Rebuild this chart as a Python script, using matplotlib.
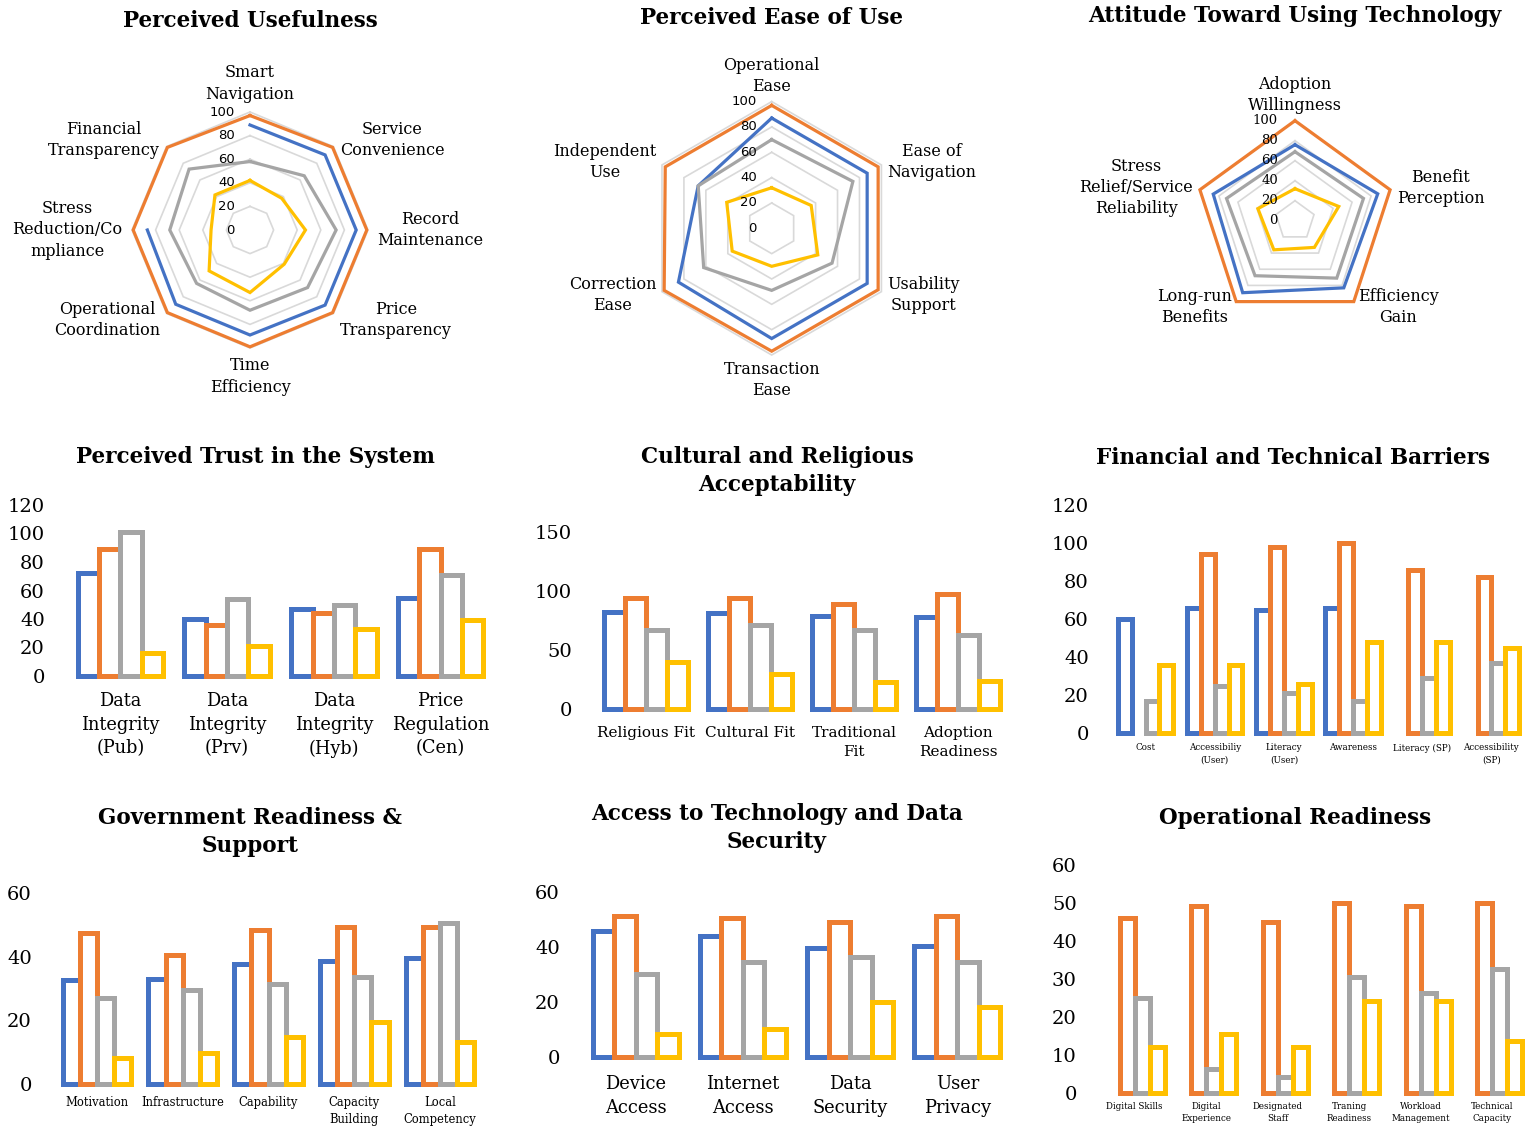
import numpy as np
import matplotlib
matplotlib.use("Agg")
import matplotlib.pyplot as plt

nan = np.nan

# ---------------- data ----------------
# Radar 1: Perceived Usefulness
pu_labels = ["Smart\nNavigation", "Service\nConvenience", "Record\nMaintenance",
             "Price\nTransparency", "Time\nEfficiency", "Operational\nCoordination",
             "Stress\nReduction/Co\nmpliance", "Financial\nTransparency"]
pu_blue = [89, 90, 90, 90, 89, 89, 87, nan]
pu_orange = [97, 99, 99, 99, 99, 99, 99, 99]
pu_gray = [58, 65, 73, 69, 68, 64, 68, 73]
pu_yellow = [42, 38, 47, 41, 53, 49, 33, 42]

# Radar 2: Perceived Ease of Use
peu_labels = ["Operational\nEase", "Ease of\nNavigation", "Usability\nSupport",
              "Transaction\nEase", "Correction\nEase", "Independent\nUse"]
peu_blue = [87, 87, 87, 87, 85, 67]
peu_orange = [97, 97, 97, 97, 98, 97]
peu_gray = [70, 74, 55, 49, 62, 67]
peu_yellow = [32, 36, 42, 30, 36, 41]

# Radar 3: Attitude Toward Using Technology
att_labels = ["Adoption\nWillingness", "Benefit\nPerception", "Efficiency\nGain",
              "Long-run\nBenefits", "Stress\nRelief/Service\nReliability"]
att_blue = [76, 87, 83, 89, 86]
att_orange = [100, 100, 100, 100, 100]
att_gray = [69, 72, 71, 68, 72]
att_yellow = [32, 46, 33, 36, 39]

# Perceived Trust in the System
trust_cats = ["Data\nIntegrity\n(Pub)", "Data\nIntegrity\n(Prv)", "Data\nIntegrity\n(Hyb)",
              "Price\nRegulation\n(Cen)"]
trust_blue = [72, 40, 47, 55]
trust_orange = [89, 36, 44, 89]
trust_gray = [101, 54, 50, 71]
trust_yellow = [16, 21, 33, 39]

# Cultural and Religious Acceptability
cult_cats = ["Religious Fit", "Cultural Fit", "Traditional\nFit", "Adoption\nReadiness"]
cult_blue = [82, 81, 79, 78]
cult_orange = [94, 94, 89, 97]
cult_gray = [67, 71, 67, 63]
cult_yellow = [40, 30, 23, 24]

# Financial and Technical Barriers
fin_cats = ["Cost", "Accessibiliy\n(User)", "Literacy\n(User)", "Awareness",
            "Literacy (SP)", "Accessibility\n(SP)"]
fin_blue = [60, 66, 65, 66, nan, nan]
fin_orange = [nan, 94, 98, 100, 86, 82]
fin_gray = [17, 25, 21, 17, 29, 37]
fin_yellow = [36, 36, 26, 48, 48, 45]

# Government Readiness & Support
gov_cats = ["Motivation", "Infrastructure", "Capability", "Capacity\nBuilding",
            "Local\nCompetency"]
gov_blue = [32.6, 33, 37.6, 38.6, 39.7]
gov_orange = [47.5, 40.5, 48.4, 49.4, 49.4]
gov_gray = [27.2, 29.5, 31.6, 33.6, 50.5]
gov_yellow = [8.2, 9.8, 14.8, 19.5, 13.2]

# Access to Technology and Data Security
acc_cats = ["Device\nAccess", "Internet\nAccess", "Data\nSecurity", "User\nPrivacy"]
acc_blue = [45.8, 43.8, 39.4, 40.4]
acc_orange = [51.3, 50.3, 49.1, 51.3]
acc_gray = [30, 34.3, 36.4, 34.3]
acc_yellow = [8.2, 10, 20, 18.2]

# Operational Readiness
ops_cats = ["Digital Skills", "Digital\nExperience", "Designated\nStaff",
            "Traning\nReadiness", "Workload\nManagement", "Technical\nCapacity"]
ops_blue = [nan, nan, nan, nan, nan, nan]
ops_orange = [46.1, 49.2, 45.1, 50.1, 49.2, 50.1]
ops_gray = [25.1, 6.3, 4.3, 30.4, 26.3, 32.6]
ops_yellow = [12.2, 15.5, 12.2, 24.3, 24.3, 13.7]

# ---------------- style ----------------
BLUE, ORANGE, GRAY, YELLOW = "#4472C4", "#ED7D31", "#A5A5A5", "#FFC000"
SERIES_COLORS = [BLUE, ORANGE, GRAY, YELLOW]
GRID = "#D9D9D9"
SERIF = ["DejaVu Serif"]
SANS = ["DejaVu Sans"]

W, H = 1536, 1127
fig = plt.figure(figsize=(W / 100, H / 100), dpi=100)
fig.patch.set_facecolor("white")


def px_axes(x0, y0, x1, y1):
    return fig.add_axes([x0 / W, 1 - y1 / H, (x1 - x0) / W, (y1 - y0) / H])


def title(text, x, y):
    fig.text(x / W, 1 - y / H, text, ha="center", va="center", family=SERIF,
             fontsize=15.5, fontweight="bold", linespacing=1.34)


def radar(cx, cy, scale, labels, series, label_r, tick_family, tick_dx):
    half = 165
    ax = px_axes(cx - half * scale, cy - half * scale, cx + half * scale, cy + half * scale)
    ax.set_xlim(-half, half)
    ax.set_ylim(-half, half)
    ax.set_axis_off()
    ax.patch.set_alpha(0)
    n = len(labels)
    theta = np.arange(n) * 2 * np.pi / n
    th_c = np.append(theta, theta[0])
    for ring in [20, 40, 60, 80, 100]:
        ax.plot(ring * np.sin(th_c), ring * np.cos(th_c), color=GRID, lw=1.2,
                zorder=1, solid_joinstyle="miter")
    for vals, col in zip(series, SERIES_COLORS):
        v = np.append(np.asarray(vals, float), vals[0])
        ax.plot(v * np.sin(th_c), v * np.cos(th_c), color=col, lw=2.3, zorder=3,
                solid_joinstyle="miter", clip_on=False)
    for t in [0, 20, 40, 60, 80, 100]:
        ax.text(-tick_dx / scale, t, str(t), ha="right", va="center",
                family=tick_family, fontsize=9.5, zorder=4)
    for lab, th in zip(labels, theta):
        s, c = np.sin(th), np.cos(th)
        if abs(s) < 0.05:
            ha = "center"
            va = "bottom" if c > 0 else "top"
        else:
            ha = "left" if s > 0 else "right"
            va = "center"
        ax.text(label_r * s, label_r * c, lab, ha=ha, va=va, family=SERIF,
                fontsize=11.5, multialignment="center", linespacing=1.32,
                clip_on=False)
    return ax


def bars(box, ymax, yticks, cats, series, xfs, xpad, width=0.2):
    x0, y0, x1, y1 = box
    # extend the axes a few pixels below the zero line so the bar bases stay inside
    below = 6
    ax = px_axes(x0, y0, x1, y1 + below)
    x = np.arange(len(cats))
    for i, (vals, col) in enumerate(zip(series, SERIES_COLORS)):
        vals = np.asarray(vals, float)
        ok = ~np.isnan(vals)
        pos = x + (i - 1.5) * width
        ax.bar(pos[ok], vals[ok], width=width, facecolor="white", edgecolor=col,
               linewidth=3.6, clip_on=False, zorder=2)
    ax.set_xlim(-0.5, len(cats) - 0.5)
    ax.set_ylim(-below * ymax / (y1 - y0), ymax)
    ax.set_yticks(yticks)
    ax.set_yticklabels([str(t) for t in yticks], family=SERIF, fontsize=14)
    ax.set_xticks(x)
    ax.set_xticklabels(cats, family=SERIF, fontsize=xfs, multialignment="center",
                       linespacing=1.42)
    ax.tick_params(axis="y", length=0, pad=16)
    ax.tick_params(axis="x", length=0, pad=xpad)
    for sp in ax.spines.values():
        sp.set_visible(False)
    ax.patch.set_alpha(0)
    return ax


# ---------------- radar charts ----------------
radar(250, 230, 1.18, pu_labels, [pu_blue, pu_orange, pu_gray, pu_yellow], 108, SANS, 15)
radar(771.7, 228.3, 1.267, peu_labels, [peu_blue, peu_orange, peu_gray, peu_yellow], 105, SANS, 15)
radar(1295, 220.7, 1.0, att_labels, [att_blue, att_orange, att_gray, att_yellow], 107, SERIF, 17)

title("Perceived Usefulness", 250, 21)
title("Perceived Ease of Use", 771, 18)
title("Attitude Toward Using Technology", 1295, 16)

# ---------------- bar charts ----------------
bars((67, 505, 494, 676), 120, [0, 20, 40, 60, 80, 100, 120], trust_cats,
     [trust_blue, trust_orange, trust_gray, trust_yellow], 12.8, 7)
bars((594, 531.7, 1010, 709), 150, [0, 50, 100, 150], cult_cats,
     [cult_blue, cult_orange, cult_gray, cult_yellow], 11, 8)
bars((1111, 505, 1526, 733.3), 120, [0, 20, 40, 60, 80, 100, 120], fin_cats,
     [fin_blue, fin_orange, fin_gray, fin_yellow], 6.3, 3)
bars((54, 893.3, 483, 1084), 60, [0, 20, 40, 60], gov_cats,
     [gov_blue, gov_orange, gov_gray, gov_yellow], 8.3, 4)
bars((582, 891.7, 1011, 1056.7), 60, [0, 20, 40, 60], acc_cats,
     [acc_blue, acc_orange, acc_gray, acc_yellow], 12.9, 9)
bars((1099, 865, 1528, 1093), 60, [0, 10, 20, 30, 40, 50, 60], ops_cats,
     [ops_blue, ops_orange, ops_gray, ops_yellow], 6.3, 2, width=0.21)

title("Perceived Trust in the System", 255, 457)
title("Cultural and Religious\nAcceptability", 777, 471)
title("Financial and Technical Barriers", 1293, 458)
title("Government Readiness &\nSupport", 250, 832)
title("Access to Technology and Data\nSecurity", 777, 828)
title("Operational Readiness", 1295, 818)

fig.savefig("out.png", dpi=100, facecolor="white")
